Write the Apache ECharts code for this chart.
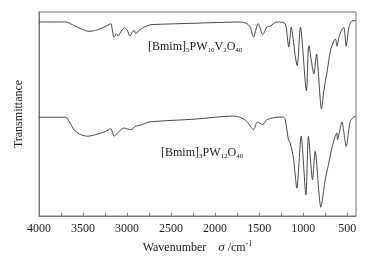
<!DOCTYPE html>
<html>
<head>
<meta charset="utf-8">
<script src="https://cdn.jsdelivr.net/npm/echarts@6/dist/echarts.min.js"></script>
<style>
  html, body { margin: 0; padding: 0; background: #fff; }
  #chart { width: 374px; height: 259px; }
</style>
</head>
<body>
<div id="chart"></div>
<script>
// FT-IR spectra, transmittance in arbitrary units (curves offset)
const upperWn = [4000, 3697, 3622, 3508, 3432, 3356, 3261, 3205, 3185, 3148, 3122, 3102, 3072, 3034, 2997, 2969, 2940, 2920, 2901, 2864, 2807, 2750, 2739, 2227, 1716, 1640, 1602, 1565, 1511, 1458, 1413, 1375, 1299, 1239, 1201, 1163, 1136, 1106, 1094, 1068, 1031, 963, 935, 878, 849, 792, 765, 727, 690, 651, 633, 614, 594, 557, 538, 511, 481, 443, 406];
const upperT = [95.1, 95.1, 93.8, 91.5, 90.5, 91.0, 92.6, 93.8, 94.3, 87.7, 89.4, 88.2, 90.2, 92.3, 91.0, 88.2, 90.2, 91.0, 89.4, 91.0, 92.6, 93.5, 93.8, 94.5, 95.1, 94.3, 92.6, 87.7, 94.3, 88.9, 92.6, 93.1, 95.1, 95.0, 94.1, 82.8, 92.5, 84.3, 79.4, 73.7, 92.5, 61.4, 83.5, 69.6, 79.4, 52.5, 61.4, 71.2, 81.0, 85.9, 86.8, 83.2, 87.6, 91.7, 92.5, 83.2, 92.5, 95.7, 95.7];

const lowerWn = [4000, 3697, 3659, 3602, 3545, 3451, 3356, 3242, 3185, 3148, 3122, 3091, 3034, 2958, 2901, 2826, 2750, 2227, 1792, 1716, 1640, 1565, 1519, 1458, 1413, 1318, 1224, 1205, 1167, 1148, 1110, 1072, 1023, 969, 940, 894, 864, 799, 750, 713, 674, 636, 617, 610, 591, 560, 511, 466, 428, 400];
const lowerT = [48.4, 48.4, 46.4, 42.3, 40.2, 39.1, 39.9, 41.5, 42.8, 39.1, 39.9, 41.5, 43.1, 42.3, 44.0, 44.8, 46.1, 47.5, 49.0, 48.4, 46.4, 42.3, 46.1, 44.8, 47.2, 48.3, 48.5, 47.5, 37.4, 35.8, 28.4, 13.7, 39.1, 10.4, 39.1, 17.8, 31.7, 4.3, 17.8, 25.1, 33.3, 39.1, 40.7, 37.4, 40.7, 46.1, 34.2, 46.4, 48.4, 49.0];

const xLabelValues = [4000, 3500, 3000, 2500, 2000, 1500, 1000, 500];
const xTickValues = [3750, 3500, 3250, 3000, 2750, 2500, 2250, 2000, 1750, 1500, 1250, 1000, 750, 500];

const upperName = "[Bmim]{sub|5}PW{sub|10}V{sub|2}O{sub|40}";
const lowerName = "[Bmim]{sub|3}PW{sub|12}O{sub|40}";

function pairs(xs, ys) {
  return xs.map((x, i) => [x, ys[i]]);
}

const serif = "Liberation Serif";
const axisColor = "#777";

let myChart = echarts.init(document.getElementById("chart"));

var options = {
  animation: false,
  grid: {
    left: 39,
    right: 18,
    top: 12,
    bottom: 43,
    show: true,
    borderColor: axisColor,
    borderWidth: 1,
  },
  xAxis: {
    type: "value",
    min: 400,
    max: 4000,
    inverse: true,
    name: "Wavenumber    {i|σ} /cm{sup|-1}",
    nameLocation: "middle",
    nameGap: 21,
    nameTextStyle: {
      fontFamily: serif,
      fontSize: 12,
      color: "#222",
      rich: {
        i: { fontFamily: serif, fontSize: 13, fontStyle: "italic", color: "#222" },
        sup: { fontFamily: serif, fontSize: 8, color: "#222", padding: [0, 0, 7, 0] },
      },
    },
    axisLine: { lineStyle: { color: axisColor, width: 1 } },
    axisTick: {
      inside: true,
      length: 3,
      customValues: xTickValues,
      lineStyle: { color: axisColor },
    },
    axisLabel: {
      customValues: xLabelValues,
      formatter: (v) => String(v),
      fontFamily: serif,
      fontSize: 12,
      color: "#222",
      margin: 7,
    },
    splitLine: { show: false },
  },
  yAxis: {
    type: "value",
    min: 0,
    max: 100,
    name: "Transmittance",
    nameLocation: "middle",
    nameGap: 14,
    nameTextStyle: { fontFamily: serif, fontSize: 12, color: "#222" },
    axisLine: { show: true, lineStyle: { color: axisColor } },
    axisTick: { show: false },
    axisLabel: { show: false },
    splitLine: { show: false },
  },
  graphic: [
    {
      type: "text",
      left: 148,
      top: 41,
      style: {
        text: upperName,
        font: "12px " + serif,
        fill: "#222",
        rich: {
          sub: { fontFamily: serif, fontSize: 7, fill: "#222", padding: [7, 0, 0, 0] },
        },
      },
    },
    {
      type: "text",
      left: 161,
      top: 147,
      style: {
        text: lowerName,
        font: "12px " + serif,
        fill: "#222",
        rich: {
          sub: { fontFamily: serif, fontSize: 7, fill: "#222", padding: [7, 0, 0, 0] },
        },
      },
    },
  ],
  series: [
    {
      name: "PW10V2",
      type: "line",
      data: pairs(upperWn, upperT),
      smooth: 0.25,
      showSymbol: false,
      lineStyle: { color: "#333", width: 0.9 },
    },
    {
      name: "PW12",
      type: "line",
      data: pairs(lowerWn, lowerT),
      smooth: 0.25,
      showSymbol: false,
      lineStyle: { color: "#333", width: 0.9 },
    },
  ],
};

myChart.setOption(options);
</script>
</body>
</html>
